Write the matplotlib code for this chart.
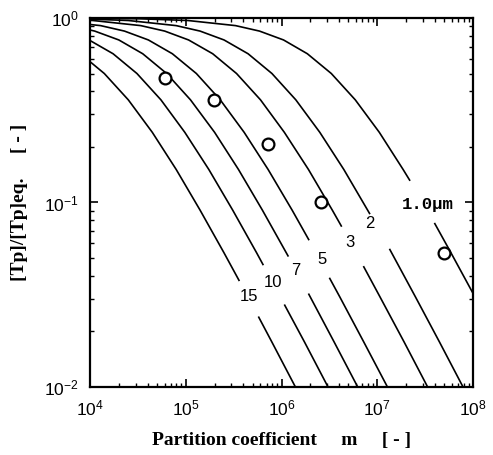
import matplotlib
matplotlib.use("Agg")
import matplotlib.pyplot as plt
import numpy as np

# ---- data ----
# each curve: partition coefficient m and [Tp]/[Tp]eq ; the split (_a / _b) is the label gap
c15_m_a = [7.94e3, 1.41e4, 2.51e4, 4.47e4, 7.94e4, 1.41e5, 2.51e5, 3.63e5]
c15_y_a = [0.640, 0.500, 0.360, 0.240, 0.151, 0.0909, 0.0533, 0.0375]
c15_m_b = [5.73e5, 7.94e5, 1.41e6, 2.51e6]
c15_y_b = [0.0241, 0.0175, 0.0099, 0.0056]

c10_m_a = [5.50e3, 9.77e3, 1.74e4, 3.09e4, 5.50e4, 9.77e4, 1.74e5, 3.09e5, 5.50e5, 6.46e5]
c10_y_a = [0.849, 0.760, 0.640, 0.500, 0.360, 0.240, 0.151, 0.0909, 0.0533, 0.0457]
c10_m_b = [1.07e6, 1.74e6, 3.09e6, 5.50e6]
c10_y_b = [0.0280, 0.0175, 0.0099, 0.0056]

c7_m_a = [6.31e3, 1.12e4, 2.00e4, 3.55e4, 6.31e4, 1.12e5, 2.00e5, 3.55e5, 6.31e5, 1.18e6]
c7_y_a = [0.909, 0.849, 0.760, 0.640, 0.500, 0.360, 0.240, 0.151, 0.0909, 0.0509]
c7_m_b = [1.91e6, 3.55e6, 6.31e6, 1.12e7]
c7_y_b = [0.0321, 0.0175, 0.0099, 0.0056]

c5_m_a = [4.07e3, 1.29e4, 2.29e4, 4.07e4, 7.24e4, 1.29e5, 2.29e5, 4.07e5, 7.24e5, 1.29e6, 1.94e6]
c5_y_a = [0.969, 0.909, 0.849, 0.760, 0.640, 0.500, 0.360, 0.240, 0.151, 0.0909, 0.0624]
c5_m_b = [3.16e6, 4.07e6, 7.24e6, 1.29e7, 2.29e7]
c5_y_b = [0.0391, 0.0307, 0.0175, 0.0099, 0.0056]

c3_m_a = [3.39e3, 1.07e4, 3.39e4, 6.03e4, 1.07e5, 1.91e5, 3.39e5, 6.03e5, 1.07e6, 1.91e6, 3.39e6, 4.25e6]
c3_y_a = [0.990, 0.969, 0.909, 0.849, 0.760, 0.640, 0.500, 0.360, 0.240, 0.151, 0.0909, 0.0739]
c3_m_b = [7.16e6, 1.07e7, 1.91e7, 3.39e7, 6.03e7]
c3_y_b = [0.0452, 0.0307, 0.0175, 0.0099, 0.0056]

c2_m_a = [7.94e3, 2.51e4, 7.94e4, 1.41e5, 2.51e5, 4.47e5, 7.94e5, 1.41e6, 2.51e6, 4.47e6, 8.39e6]
c2_y_a = [0.990, 0.969, 0.909, 0.849, 0.760, 0.640, 0.500, 0.360, 0.240, 0.151, 0.0864]
c2_m_b = [1.34e7, 2.51e7, 4.47e7, 7.94e7, 1.41e8]
c2_y_b = [0.0561, 0.0307, 0.0175, 0.0099, 0.0056]

c1_m_a = [8.32e3, 3.31e4, 1.05e5, 3.31e5, 5.89e5, 1.05e6, 1.86e6, 3.31e6, 5.89e6, 1.05e7, 1.86e7, 2.20e7]
c1_y_a = [0.9975, 0.990, 0.969, 0.909, 0.849, 0.760, 0.640, 0.500, 0.360, 0.240, 0.151, 0.131]
c1_m_b = [3.95e7, 5.89e7, 1.05e8]
c1_y_b = [0.0775, 0.0533, 0.0307]

# experimental points
exp_m = [6.07e4, 1.99e5, 7.2e5, 2.56e6, 4.98e7]
exp_y = [0.475, 0.358, 0.207, 0.101, 0.053]

# curve labels
lab_text = ["1.0\u03bcm", "2", "3", "5", "7", "10", "15"]
lab_m = [3.4e7, 8.4e6, 5.2e6, 2.63e6, 1.42e6, 8.1e5, 4.6e5]
lab_y = [0.097, 0.077, 0.0605, 0.049, 0.0427, 0.0367, 0.0309]

x_ticks = [1e4, 1e5, 1e6, 1e7, 1e8]
y_ticks = [1e-2, 1e-1, 1e0]

# ---- plotting ----
plt.rcParams['font.family'] = ['Liberation Sans', 'DejaVu Sans']
plt.rcParams['mathtext.default'] = 'regular'

fig = plt.figure(figsize=(4.93, 4.55), dpi=100)
ax = fig.add_axes([0.1826, 0.1495, 0.7769, 0.8110])

curves = [
    (c15_m_a, c15_y_a, c15_m_b, c15_y_b),
    (c10_m_a, c10_y_a, c10_m_b, c10_y_b),
    (c7_m_a, c7_y_a, c7_m_b, c7_y_b),
    (c5_m_a, c5_y_a, c5_m_b, c5_y_b),
    (c3_m_a, c3_y_a, c3_m_b, c3_y_b),
    (c2_m_a, c2_y_a, c2_m_b, c2_y_b),
    (c1_m_a, c1_y_a, c1_m_b, c1_y_b),
]
for ma, ya, mb, yb in curves:
    ax.plot(ma, ya, color='black', lw=1.2, solid_capstyle='butt', solid_joinstyle='round')
    ax.plot(mb, yb, color='black', lw=1.2, solid_capstyle='butt', solid_joinstyle='round')

ax.plot(exp_m, exp_y, linestyle='none', marker='o', markersize=8.5,
        markerfacecolor='white', markeredgecolor='black', markeredgewidth=1.6, zorder=5)

for t, mx, my in zip(lab_text, lab_m, lab_y):
    if t.startswith('1.0'):
        ax.text(mx, my, t, ha='center', va='center', fontsize=12.5,
                family=['Liberation Mono', 'DejaVu Sans Mono'], fontweight='bold')
    else:
        ax.text(mx, my, t, ha='center', va='center', fontsize=12)

ax.set_xscale('log')
ax.set_yscale('log')
ax.set_xlim(1e4, 1e8)
ax.set_ylim(1e-2, 1e0)
ax.set_xticks(x_ticks)
ax.set_yticks(y_ticks)

ax.tick_params(which='both', direction='in', top=True, right=True)
ax.tick_params(which='major', length=6, width=1.2, labelsize=12.5)
ax.tick_params(axis='x', which='major', pad=8)
ax.tick_params(axis='y', which='major', pad=8)
ax.tick_params(which='minor', length=3, width=1.0)
for s in ax.spines.values():
    s.set_linewidth(1.6)

ax.set_xlabel('Partition coefficient     m     [ - ]', family='Liberation Serif',
              fontweight='bold', fontsize=14, labelpad=10)
ax.set_ylabel('[Tp]/[Tp]eq.     [ - ]', family='Liberation Serif',
              fontweight='bold', fontsize=14, labelpad=12)

fig.savefig('out.png', dpi=100)
